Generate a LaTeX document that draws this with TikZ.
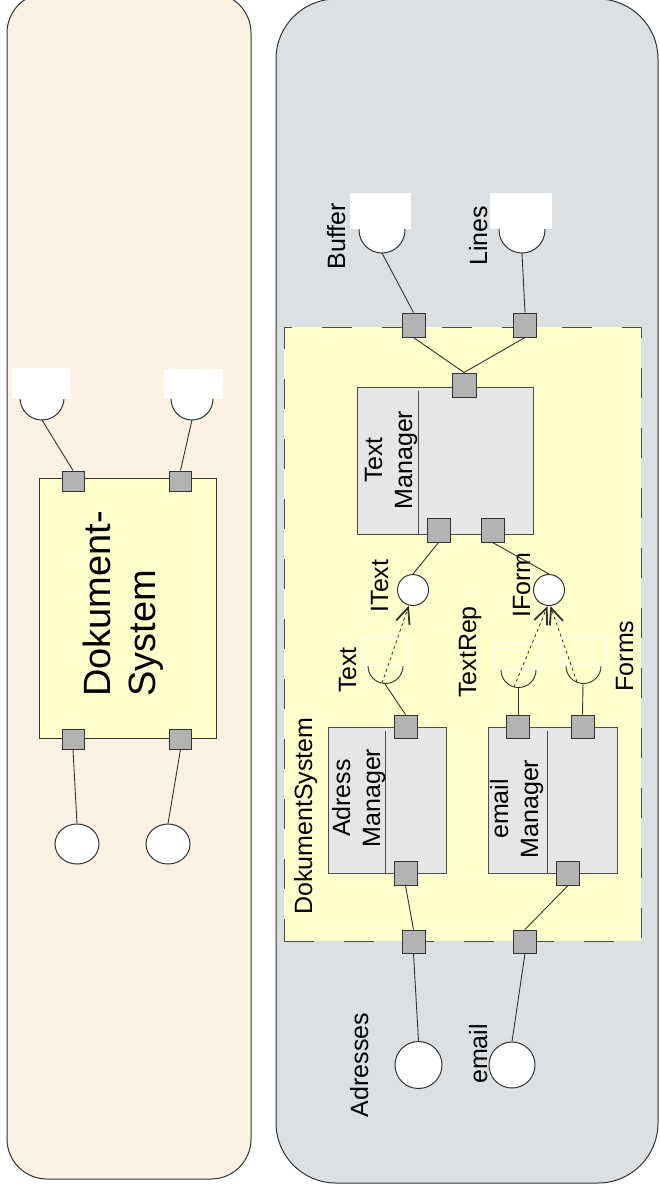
\documentclass[tikz,border=0pt]{standalone}
\usepackage{fontspec}
\setmainfont{Liberation Sans}
\usetikzlibrary{arrows.meta,shapes.geometric}
\definecolor{beige}{RGB}{252,242,227}
\definecolor{panelgray}{RGB}{221,224,227}
\definecolor{lightyellow}{RGB}{255,255,204}
\definecolor{compgray}{RGB}{230,230,230}
\definecolor{portgray}{RGB}{179,179,179}
\definecolor{edge}{RGB}{50,50,50}
\tikzset{
  panel/.style={draw=edge, line width=1pt, inner sep=0pt},
  portbox/.style={draw=edge, fill=portgray, line width=1pt, minimum width=23pt, minimum height=23pt, inner sep=0pt},
  compbox/.style={draw=black!70, fill=compgray, line width=1pt, inner sep=0pt},
  ifcircle/.style={circle, draw=edge, fill=white, line width=1pt, inner sep=0pt},
  conn/.style={draw=edge, line width=0.9pt},
  dep/.style={draw=edge, line width=0.8pt, dashed, dash pattern=on 3pt off 3pt, -{Straight Barb[length=16pt,width=14pt,line width=1.8pt]}},
  lbl/.style={rotate=90, anchor=base, inner sep=0pt, font=\fontsize{25}{30}\selectfont},
  cover/.style={fill=white, draw=none, inner sep=0pt},
  ghost/.style={draw=white, line width=0.8pt, inner sep=0pt},
}
\begin{document}
\begin{tikzpicture}[x=1pt,y=-1pt]
\useasboundingbox (0,0) rectangle (659,1192);
\fill[white] (0,0) rectangle (659,1192);

% ---------- left panel ----------
\node[panel, fill=beige, rounded corners=40pt, minimum width=244pt, minimum height=1186pt] (leftpanel) at (129,586) {};
\node[draw=edge, fill=lightyellow, line width=1pt, minimum width=177pt, minimum height=260pt, inner sep=0pt] (ds) at (127.5,608) {};
\node[rotate=90, anchor=base west, align=left, inner sep=0pt, font=\fontsize{38}{45}\selectfont] (dslabel) at (155,697) {Dokument-\\System};

% sockets (left)
\node[ifcircle, minimum size=44pt] (lsock1) at (42,398) {};
\node[cover, minimum width=59pt, minimum height=31pt] (lcov1) at (41.5,383.5) {};
\node[ifcircle, minimum size=42pt] (lsock2) at (192,399) {};
\node[cover, minimum width=59pt, minimum height=30pt] (lcov2) at (193.5,384) {};
\coordinate (lsb1) at (42,420);
\coordinate (lsb2) at (192,420);

\node[portbox, minimum width=22pt, minimum height=20pt] (lpt1) at (73,481) {};
\node[portbox, minimum width=22pt, minimum height=20pt] (lpt2) at (180.5,481) {};
\node[portbox, minimum width=22pt, minimum height=20pt] (lpb1) at (73,739) {};
\node[portbox, minimum width=22pt, minimum height=20pt] (lpb2) at (180.5,739) {};

\node[ellipse, draw=edge, fill=white, line width=1pt, minimum width=44pt, minimum height=40pt, inner sep=0pt] (lc1) at (77,844) {};
\node[ellipse, draw=edge, fill=white, line width=1pt, minimum width=44pt, minimum height=40pt, inner sep=0pt] (lc2) at (168,844) {};

\draw[conn] (lsb1) -- (lpt1.north);
\draw[conn] (lsb2) -- (lpt2.north);
\draw[conn] (lpb1.south) -- (lc1.north);
\draw[conn] (lpb2.south) -- (lc2.north);

% ---------- right panel ----------
\node[panel, fill=panelgray, rounded corners=60pt, minimum width=382pt, minimum height=1184pt] (rightpanel) at (467,591) {};
\node[draw=black!70, fill=lightyellow, line width=1pt, dash pattern=on 30pt off 30pt, minimum width=357pt, minimum height=614pt, inner sep=0pt] (dsys) at (462.5,634) {};
\node[lbl] (dsyslabel) at (312,816) {DokumentSystem};

% Buffer / Lines sockets
\node[ifcircle, minimum size=46pt] (sbuf) at (382,230) {};
\node[cover, minimum width=61pt, minimum height=36pt] (cbuf) at (380.5,211) {};
\node[ifcircle, minimum size=46pt] (slin) at (522,230) {};
\node[cover, minimum width=62pt, minimum height=36pt] (clin) at (521,211) {};
\coordinate (sbufb) at (382,253);
\coordinate (slinb) at (522,253);
\node[lbl] (buflabel) at (345,236) {Buffer};
\node[lbl] (linlabel) at (487,236) {Lines};

% Text Manager
\node[compbox, minimum width=176pt, minimum height=147pt] (tm) at (445,460.5) {};
\draw[draw=black!70, line width=1pt] (418,391) -- (418,534);
\node[lbl, align=center] (tmlabel) at (412,460) {Text\\Manager};

% Adress Manager
\node[compbox, minimum width=118pt, minimum height=146pt] (am) at (387,800) {};
\draw[draw=black!70, line width=1pt] (385,731) -- (385,873);
\node[lbl, align=center] (amlabel) at (380,798) {Adress\\Manager};

% email Manager
\node[compbox, minimum width=129pt, minimum height=146pt] (em) at (552.5,800) {};
\draw[draw=black!70, line width=1pt] (547,731) -- (547,873);
\node[lbl, align=center] (emlabel) at (538,809) {email\\Manager};

% provided interfaces
\node[ifcircle, minimum size=31pt] (itext) at (413,590) {};
\node[ifcircle, minimum size=31pt] (iform) at (549,590) {};
\node[lbl] (itextlabel) at (388,586) {IText};
\node[lbl] (iformlabel) at (530,585) {IForm};

% required interfaces inside
\node[ghost, minimum width=46pt, minimum height=28pt] (gtext) at (385,651) {};
\node[ghost, minimum width=46pt, minimum height=27pt] (grep) at (518,655.5) {};
\node[ghost, minimum width=46pt, minimum height=28pt] (gforms) at (583,651) {};
\draw[conn] (368,666) arc[start angle=180, end angle=0, radius=17.5];
\draw[conn] (501,670) arc[start angle=180, end angle=0, radius=17.5];
\draw[conn] (566,666) arc[start angle=180, end angle=0, radius=17.5];
\coordinate (stextb) at (385,684);
\coordinate (srepb) at (518,688);
\coordinate (sformb) at (583,684);
\node[lbl] (textlabel) at (356,670) {Text};
\node[lbl] (replabel) at (476,652) {TextRep};
\node[lbl] (formslabel) at (633,656) {Forms};

% outer interfaces
\node[ifcircle, minimum size=47pt] (cadr) at (418.5,1065) {};
\node[ifcircle, minimum size=46pt] (cmail) at (512,1065) {};
\node[lbl] (adrlabel) at (368,1065) {Adresses};
\node[lbl] (maillabel) at (487,1054) {email};

% ports
\node[portbox, minimum height=24pt] (pbuf) at (413.5,325) {};
\node[portbox, minimum height=24pt] (plin) at (525,325) {};
\node[portbox, minimum width=24pt, minimum height=24pt] (tmt) at (464,385) {};
\node[portbox, minimum height=24pt] (tma) at (438.5,530) {};
\node[portbox, minimum height=24pt] (tmb) at (492.5,530) {};
\node[portbox] (amt) at (405.5,726.5) {};
\node[portbox, minimum height=24pt] (amb) at (405.5,873) {};
\node[portbox] (emt1) at (518,726.5) {};
\node[portbox] (emt2) at (582.5,726.5) {};
\node[portbox, minimum height=24pt] (emb) at (568,873) {};
\node[portbox] (pad) at (413.5,941.5) {};
\node[portbox] (pml) at (525,941.5) {};

% connectors
\draw[conn] (sbufb) -- (pbuf.north);
\draw[conn] (slinb) -- (plin.north);
\draw[conn] (pbuf.south) -- (tmt.north);
\draw[conn] (plin.south) -- (tmt.north);
\draw[conn] (tma.south) -- (itext.north);
\draw[conn] (tmb.south) -- (iform.north);
\draw[conn] (stextb) -- (amt.north);
\draw[conn] (srepb) -- (emt1.north);
\draw[conn] (sformb) -- (emt2.north);
\draw[conn] (amb.south) -- (pad.north);
\draw[conn] (emb.south) -- (pml.north);
\draw[conn] (pad.south) -- (cadr.north);
\draw[conn] (pml.south) -- (cmail.north);
\draw[dep] (382,683) -- (itext.-105);
\draw[dep] (514,687) -- (iform.-95);
\draw[dep] (577,682) -- (iform.-85);
\end{tikzpicture}
\end{document}
